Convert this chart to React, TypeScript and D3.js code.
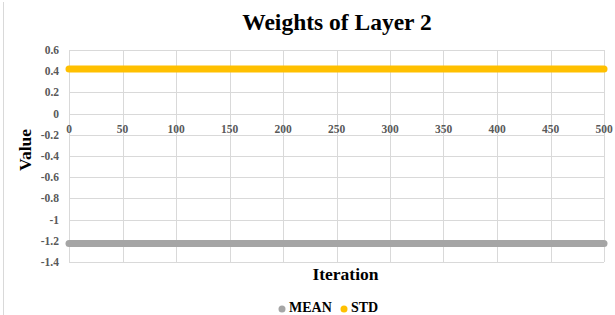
import React from "react";
import * as d3 from "d3";

const WIDTH = 615;
const HEIGHT = 315;
const MARGIN = { top: 50, left: 69, right: 11, bottom: 53 };

const TITLE = "Weights of Layer 2";
const X_LABEL = "Iteration";
const Y_LABEL = "Value";

// values read at every 50 iterations (flat over the whole run)
const iterations = [0, 50, 100, 150, 200, 250, 300, 350, 400, 450, 500];
const meanValues = [-1.225, -1.225, -1.225, -1.225, -1.225, -1.225, -1.225, -1.225, -1.225, -1.225, -1.225];
const stdValues = [0.42, 0.42, 0.42, 0.42, 0.42, 0.42, 0.42, 0.42, 0.42, 0.42, 0.42];

const xTicks = [0, 50, 100, 150, 200, 250, 300, 350, 400, 450, 500];
const yTicks = [0.6, 0.4, 0.2, 0, -0.2, -0.4, -0.6, -0.8, -1, -1.2, -1.4];

const series = [
  { name: "MEAN", values: meanValues, color: "#a5a5a5" },
  { name: "STD", values: stdValues, color: "#ffc000" }
];

const FONT = "Liberation Serif";
const TICK_COLOR = "#595959";
const GRID = "#d9d9d9";

export default function App() {
  const x = d3
    .scaleLinear()
    .domain([0, 500])
    .range([MARGIN.left, WIDTH - MARGIN.right]);
  const y = d3
    .scaleLinear()
    .domain([-1.4, 0.6])
    .range([HEIGHT - MARGIN.bottom, MARGIN.top]);

  const line = d3
    .line<number>()
    .x((d, i) => x(iterations[i]))
    .y(d => y(d));

  return (
    <svg
      width={WIDTH}
      height={HEIGHT}
      style={{ position: "absolute", left: 0, top: 0 }}
    >
      <rect x={0} y={0} width={WIDTH} height={HEIGHT} fill="white" />
      <line x1={3.5} x2={3.5} y1={2} y2={HEIGHT} stroke={GRID} />

      <text
        x={337}
        y={30}
        textAnchor="middle"
        fontFamily={FONT}
        fontSize={23.5}
        fontWeight="bold"
        fill="black"
      >
        {TITLE}
      </text>

      {/* grid */}
      {yTicks.map(t => (
        <line
          key={"gy" + t}
          x1={x(0)}
          x2={x(500)}
          y1={Math.round(y(t)) + 0.5}
          y2={Math.round(y(t)) + 0.5}
          stroke={GRID}
        />
      ))}
      {xTicks.map(t => (
        <line
          key={"gx" + t}
          x1={Math.round(x(t)) + 0.5}
          x2={Math.round(x(t)) + 0.5}
          y1={y(0.6)}
          y2={y(-1.4)}
          stroke={GRID}
        />
      ))}

      {/* y tick labels */}
      {yTicks.map(t => (
        <text
          key={"ty" + t}
          x={MARGIN.left - 10}
          y={y(t) + 4}
          textAnchor="end"
          fontFamily={FONT}
          fontSize={11.5}
          fontWeight="bold"
          fill={TICK_COLOR}
        >
          {String(t)}
        </text>
      ))}

      {/* x tick labels sit on the zero line */}
      {xTicks.map(t => (
        <text
          key={"tx" + t}
          x={x(t)}
          y={y(0) + 19}
          textAnchor="middle"
          fontFamily={FONT}
          fontSize={11.5}
          fontWeight="bold"
          fill={TICK_COLOR}
        >
          {t}
        </text>
      ))}

      {series.map(s => (
        <path
          key={s.name}
          d={line(s.values) || ""}
          fill="none"
          stroke={s.color}
          strokeWidth={7}
          strokeLinecap="round"
        />
      ))}

      <text
        transform={`translate(31,150) rotate(-90)`}
        textAnchor="middle"
        fontFamily={FONT}
        fontSize={17.5}
        fontWeight="bold"
        fill="black"
      >
        {Y_LABEL}
      </text>
      <text
        x={345.5}
        y={280}
        textAnchor="middle"
        fontFamily={FONT}
        fontSize={17.5}
        fontWeight="bold"
        fill="black"
      >
        {X_LABEL}
      </text>

      {/* legend */}
      <g fontFamily={FONT} fontSize={14} fontWeight="bold" fill="black">
        <circle cx={282} cy={309} r={3.5} fill={series[0].color} />
        <text x={289} y={312}>
          {series[0].name}
        </text>
        <circle cx={344} cy={309} r={3.5} fill={series[1].color} />
        <text x={351} y={312}>
          {series[1].name}
        </text>
      </g>
    </svg>
  );
}
